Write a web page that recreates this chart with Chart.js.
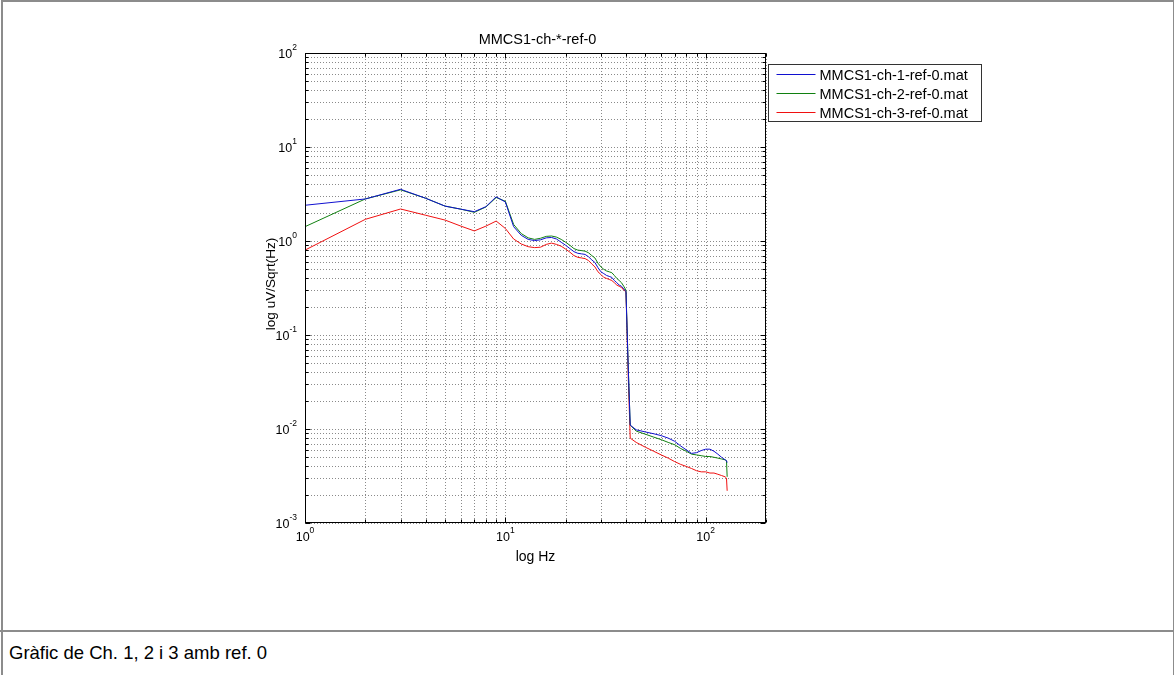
<!DOCTYPE html>
<html><head><meta charset="utf-8">
<script src="https://cdn.jsdelivr.net/npm/chart.js@4/dist/chart.umd.min.js"></script>
<style>
html,body{margin:0;padding:0;background:#fff;}
#wrap{position:relative;width:1174px;height:675px;overflow:hidden;background:#fff;}
#frame{position:absolute;left:1px;top:0;width:1170px;height:673px;border:2px solid #8c8c8c;border-right-width:1px;}
#sep{position:absolute;left:0;top:630px;width:1174px;height:2px;background:#8c8c8c;}
#chartBox{position:absolute;left:0;top:0;width:1174px;height:630px;}
#caption{position:absolute;left:9px;top:633px;height:42px;line-height:40px;font-family:"Liberation Sans",Arial,sans-serif;font-size:18.5px;color:#000;white-space:nowrap;}
</style></head>
<body>
<div id="wrap">
  <div id="frame"></div>
  <div id="chartBox"><canvas id="c" width="1174" height="630"></canvas></div>
  <div id="sep"></div>
  <div id="caption">Gràfic de Ch. 1, 2 i 3 amb ref. 0</div>
</div>
<script>
// ---------------- data ----------------
const chartTitle = 'MMCS1-ch-*-ref-0';
const xAxisTitle = 'log Hz';
const yAxisTitle = 'log uV/Sqrt(Hz)';
const seriesLabels = ['MMCS1-ch-1-ref-0.mat', 'MMCS1-ch-2-ref-0.mat', 'MMCS1-ch-3-ref-0.mat'];

const freqHz = [1,2,3,4,5,6,7,8,9,10,11,12,13,14,15,16,17,18,19,20,
  21,22,23,24,25,26,27,28,29,30,31,32,33,34,35,36,37,38,39,40,41,42,
  45,50,55,60,65,70,75,80,85,90,95,100,105,110,115,120,125,127,128];

const ch1 = [2.40,2.80,3.55,2.85,2.35,2.18,2.05,2.32,2.95,2.60,1.42,1.15,1.04,1.01,1.03,1.08,1.09,1.05,0.97,0.90,
  0.83,0.77,0.74,0.73,0.72,0.68,0.63,0.59,0.52,0.47,0.45,0.43,0.42,0.41,0.38,0.36,0.34,0.33,0.31,0.29,0.05,0.011,
  0.0098,0.0093,0.0089,0.0085,0.0080,0.0074,0.0066,0.0060,0.0055,0.0056,0.0059,0.0061,0.0061,0.0058,0.0054,0.0050,0.0047,0.0046,0.0044];

const ch2 = [1.42,2.80,3.50,2.85,2.35,2.18,2.02,2.30,2.90,2.65,1.50,1.20,1.08,1.04,1.07,1.12,1.13,1.10,1.04,0.97,
  0.90,0.83,0.80,0.79,0.78,0.75,0.70,0.66,0.58,0.53,0.50,0.48,0.47,0.46,0.43,0.40,0.38,0.36,0.33,0.30,0.05,0.011,
  0.0095,0.0088,0.0082,0.0077,0.0072,0.0068,0.0062,0.0058,0.0054,0.0053,0.0052,0.0051,0.0051,0.0050,0.0049,0.0048,0.0047,0.0046,0.0031];

const ch3 = [0.80,1.70,2.19,1.88,1.67,1.44,1.28,1.44,1.63,1.36,1.05,0.93,0.87,0.85,0.86,0.92,0.95,0.92,0.88,0.82,
  0.76,0.70,0.67,0.66,0.65,0.62,0.57,0.53,0.47,0.44,0.41,0.40,0.39,0.38,0.36,0.34,0.33,0.32,0.30,0.29,0.04,0.008,
  0.0072,0.0064,0.0058,0.0053,0.0049,0.0045,0.0042,0.0040,0.0038,0.0036,0.0035,0.0035,0.0034,0.0034,0.0033,0.0032,0.0031,0.0030,0.0022];

const seriesColors = ['#1010d0', '#108010', '#f01010'];

const xMin = 1, xMax = 200;
const yMin = 0.001, yMax = 100;
const xGridValues = [1,2,3,4,5,6,7,8,9,10,20,30,40,50,60,70,80,90,100,200];
const yGridValues = [0.001,0.002,0.003,0.004,0.005,0.006,0.007,0.008,0.009,
  0.01,0.02,0.03,0.04,0.05,0.06,0.07,0.08,0.09,
  0.1,0.2,0.3,0.4,0.5,0.6,0.7,0.8,0.9,
  1,2,3,4,5,6,7,8,9,10,20,30,40,50,60,70,80,90,100];
const xTickValues = [1, 10, 100];
const xTickExps = ['0', '1', '2'];
const yTickValues = [0.001, 0.01, 0.1, 1, 10, 100];
const yTickExps = ['-3', '-2', '-1', '0', '1', '2'];

// ---------------- chart ----------------
const FONT = '"Liberation Sans", Arial, sans-serif';
const fs = 14.5, afs = 14, tfs = 12.5, efs = 8.5;

function pts(ys) { return freqHz.map((f, i) => ({x: f, y: ys[i]})); }
const allSeries = [ch1, ch2, ch3];

const dottedGrid = {
  id: 'dottedGrid',
  beforeDatasetsDraw(chart) {
    const ctx = chart.ctx;
    const ca = chart.chartArea;
    const xs = chart.scales.x, ys = chart.scales.y;
    ctx.save();
    ctx.strokeStyle = '#8a8a8a';
    ctx.lineWidth = 1;
    ctx.setLineDash([1, 2]);
    ctx.beginPath();
    xGridValues.forEach(v => {
      const px = Math.round(xs.getPixelForValue(v)) + 0.5;
      ctx.moveTo(px, ca.top); ctx.lineTo(px, ca.bottom);
    });
    yGridValues.forEach(v => {
      const py = Math.round(ys.getPixelForValue(v)) + 0.5;
      ctx.moveTo(ca.left, py); ctx.lineTo(ca.right, py);
    });
    ctx.stroke();
    ctx.restore();
  }
};

const decor = {
  id: 'decor',
  afterDraw(chart) {
    const ctx = chart.ctx;
    const ca = chart.chartArea;
    const xs = chart.scales.x, ys = chart.scales.y;
    const L = Math.round(ca.left) + 0.5, R = Math.round(ca.right) - 0.5;
    const T = Math.round(ca.top) + 0.5, B = Math.round(ca.bottom) - 0.5;
    ctx.save();
    ctx.strokeStyle = '#000';
    ctx.lineWidth = 1;
    ctx.beginPath();
    xGridValues.forEach(v => {
      const px = Math.round(xs.getPixelForValue(v)) + 0.5;
      const len = xTickValues.includes(v) ? 5 : 3;
      ctx.moveTo(px, B); ctx.lineTo(px, B - len);
      ctx.moveTo(px, T); ctx.lineTo(px, T + len);
    });
    yGridValues.forEach(v => {
      const py = Math.round(ys.getPixelForValue(v)) + 0.5;
      const len = yTickValues.includes(v) ? 5 : 3;
      ctx.moveTo(L, py); ctx.lineTo(L + len, py);
      ctx.moveTo(R, py); ctx.lineTo(R - len, py);
    });
    ctx.stroke();
    ctx.strokeRect(L, T, R - L, B - T);

    ctx.fillStyle = '#000';
    xTickValues.forEach((v, i) => {
      const px = xs.getPixelForValue(v);
      ctx.font = tfs + 'px ' + FONT;
      const wb = ctx.measureText('10').width;
      ctx.font = efs + 'px ' + FONT;
      const we = ctx.measureText(xTickExps[i]).width;
      const x0 = px - (wb + we) / 2;
      ctx.textBaseline = 'middle'; ctx.textAlign = 'left';
      ctx.font = tfs + 'px ' + FONT;
      ctx.fillText('10', x0, ca.bottom + 15);
      ctx.font = efs + 'px ' + FONT;
      ctx.fillText(xTickExps[i], x0 + wb, ca.bottom + 8);
    });
    yTickValues.forEach((v, i) => {
      const py = ys.getPixelForValue(v);
      ctx.font = efs + 'px ' + FONT;
      const we = ctx.measureText(yTickExps[i]).width;
      const xr = ca.left - 8;
      ctx.textBaseline = 'middle';
      ctx.textAlign = 'left';
      ctx.fillText(yTickExps[i], xr - we, py - 5);
      ctx.font = tfs + 'px ' + FONT;
      ctx.textAlign = 'right';
      ctx.fillText('10', xr - we, py + 2);
    });
    ctx.font = afs + 'px ' + FONT;
    ctx.textAlign = 'center';
    ctx.textBaseline = 'middle';
    ctx.fillText(xAxisTitle, (ca.left + ca.right) / 2, ca.bottom + 34);
    ctx.save();
    ctx.translate(ca.left - 34, (ca.top + ca.bottom) / 2 - 4);
    ctx.rotate(-Math.PI / 2);
    ctx.font = '13.5px ' + FONT;
    ctx.fillText(yAxisTitle, 0, 0);
    ctx.restore();
    ctx.font = fs + 'px ' + FONT;
    ctx.fillText(chartTitle, (ca.left + ca.right) / 2 + 2, ca.top - 13);

    const lx = 768.5, ly = 64.5, lw = 213, lh = 57;
    ctx.fillStyle = '#fff';
    ctx.fillRect(lx, ly, lw, lh);
    ctx.strokeStyle = '#333';
    ctx.strokeRect(lx, ly, lw, lh);
    chart.data.datasets.forEach((ds, i) => {
      const yy = Math.round(ly + 9 + i * 19.2) + 0.5;
      ctx.strokeStyle = ds.borderColor;
      ctx.beginPath();
      ctx.moveTo(lx + 8, yy); ctx.lineTo(lx + 47, yy);
      ctx.stroke();
      ctx.fillStyle = '#000';
      ctx.textAlign = 'left';
      ctx.font = fs + 'px ' + FONT;
      ctx.fillText(ds.label, lx + 51, yy + 1);
    });
    ctx.restore();
  }
};

new Chart(document.getElementById('c'), {
  type: 'scatter',
  data: {
    datasets: allSeries.map((s, i) => ({
      label: seriesLabels[i],
      data: pts(s),
      showLine: true,
      borderColor: seriesColors[i],
      backgroundColor: seriesColors[i],
      borderWidth: 1,
      pointRadius: 0,
      pointHoverRadius: 0,
      tension: 0,
      fill: false
    }))
  },
  options: {
    responsive: false,
    animation: false,
    events: [],
    layout: { padding: { left: 305, top: 53, right: 408, bottom: 107 } },
    plugins: { legend: { display: false }, title: { display: false }, tooltip: { enabled: false } },
    scales: {
      x: {
        type: 'logarithmic', min: xMin, max: xMax,
        afterBuildTicks: s => { s.ticks = xGridValues.map(v => ({value: v})); },
        afterFit: s => { s.height = 0; },
        ticks: { display: false, autoSkip: false },
        grid: { display: false },
        border: { display: false }
      },
      y: {
        type: 'logarithmic', min: yMin, max: yMax,
        afterBuildTicks: s => { s.ticks = yGridValues.map(v => ({value: v})); },
        afterFit: s => { s.width = 0; },
        ticks: { display: false, autoSkip: false },
        grid: { display: false },
        border: { display: false }
      }
    }
  },
  plugins: [dottedGrid, decor]
});
</script>
</body></html>
